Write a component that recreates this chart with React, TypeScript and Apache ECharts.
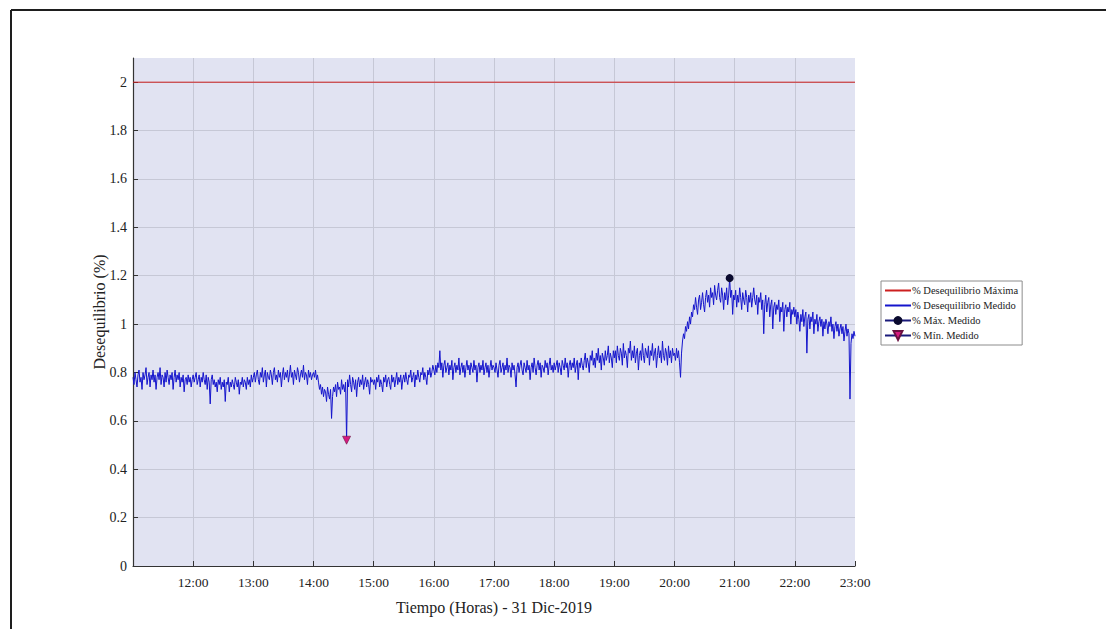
import React, { useEffect, useRef } from "react";
import * as echarts from "echarts";

// Sampled every minute, one array per hour (minutes :00 .. :59)
const h11 = [
  0.78, 0.75, 0.80, 0.77, 0.74, 0.79, 0.81, 0.76, 0.78, 0.73,
  0.80, 0.77, 0.79, 0.82, 0.75, 0.78, 0.80, 0.74, 0.79, 0.77,
  0.81, 0.76, 0.79, 0.73, 0.78, 0.80, 0.77, 0.82, 0.75, 0.79,
  0.78, 0.74, 0.80, 0.76, 0.81, 0.78, 0.75, 0.79, 0.77, 0.80,
  0.73, 0.78, 0.81, 0.76, 0.79, 0.77, 0.80, 0.74, 0.78, 0.76,
  0.79, 0.72, 0.77, 0.78, 0.75, 0.79, 0.76, 0.78, 0.74, 0.77,
];
const h12 = [
  0.79, 0.76, 0.78, 0.80, 0.75, 0.77, 0.79, 0.74, 0.78, 0.76,
  0.80, 0.77, 0.75, 0.79, 0.73, 0.78, 0.76, 0.67, 0.77, 0.79,
  0.75, 0.77, 0.74, 0.76, 0.72, 0.77, 0.75, 0.78, 0.73, 0.76,
  0.74, 0.77, 0.68, 0.76, 0.75, 0.78, 0.72, 0.76, 0.74, 0.77,
  0.75, 0.73, 0.78, 0.76, 0.74, 0.77, 0.71, 0.76, 0.75, 0.78,
  0.74, 0.77, 0.76, 0.73, 0.78, 0.75, 0.77, 0.74, 0.79, 0.76,
];
const h13 = [
  0.78, 0.80, 0.76, 0.79, 0.81, 0.77, 0.75, 0.80, 0.78, 0.82,
  0.76, 0.79, 0.81, 0.74, 0.80, 0.78, 0.77, 0.81, 0.79, 0.75,
  0.80, 0.82, 0.77, 0.79, 0.76, 0.81, 0.78, 0.80, 0.74, 0.79,
  0.82, 0.77, 0.80, 0.78, 0.81, 0.76, 0.79, 0.83, 0.78, 0.80,
  0.75, 0.81, 0.79, 0.77, 0.82, 0.80, 0.76, 0.79, 0.81, 0.78,
  0.83, 0.77, 0.80, 0.79, 0.75, 0.81, 0.78, 0.80, 0.77, 0.79,
];
const h14 = [
  0.80, 0.78, 0.81, 0.77, 0.79, 0.76, 0.73, 0.75, 0.71, 0.74,
  0.70, 0.73, 0.72, 0.68, 0.74, 0.71, 0.69, 0.73, 0.61, 0.70,
  0.74, 0.72, 0.75, 0.70, 0.76, 0.73, 0.74, 0.71, 0.77, 0.73,
  0.75, 0.72, 0.76, 0.52, 0.77, 0.74, 0.79, 0.75, 0.72, 0.78,
  0.76, 0.73, 0.77, 0.70, 0.76, 0.78, 0.74, 0.77, 0.75, 0.79,
  0.73, 0.76, 0.78, 0.74, 0.77, 0.75, 0.71, 0.78, 0.76, 0.77,
];
const h15 = [
  0.75, 0.77, 0.73, 0.78, 0.76, 0.79, 0.74, 0.77, 0.75, 0.72,
  0.78, 0.76, 0.79, 0.74, 0.77, 0.78, 0.75, 0.73, 0.79, 0.76,
  0.78, 0.74, 0.77, 0.80, 0.75, 0.78, 0.76, 0.79, 0.73, 0.77,
  0.79, 0.76, 0.80, 0.77, 0.75, 0.79, 0.78, 0.81, 0.76, 0.78,
  0.80, 0.74, 0.79, 0.77, 0.81, 0.78, 0.76, 0.80, 0.79, 0.82,
  0.77, 0.80, 0.78, 0.75, 0.81, 0.79, 0.82, 0.78, 0.80, 0.83,
];
const h16 = [
  0.81, 0.79, 0.83, 0.80, 0.84, 0.82, 0.89, 0.81, 0.84, 0.78,
  0.83, 0.85, 0.80, 0.82, 0.84, 0.79, 0.83, 0.81, 0.85, 0.77,
  0.82, 0.84, 0.80, 0.83, 0.81, 0.86, 0.79, 0.82, 0.84, 0.80,
  0.83, 0.78, 0.82, 0.85, 0.81, 0.83, 0.79, 0.84, 0.82, 0.80,
  0.85, 0.81, 0.83, 0.76, 0.82, 0.84, 0.80, 0.83, 0.81, 0.85,
  0.79, 0.82, 0.84, 0.80, 0.83, 0.78, 0.82, 0.85, 0.81, 0.83,
];
const h17 = [
  0.82, 0.80, 0.84, 0.81, 0.78, 0.83, 0.85, 0.80, 0.82, 0.84,
  0.79, 0.83, 0.81, 0.86, 0.80, 0.83, 0.82, 0.78, 0.84, 0.81,
  0.83, 0.79, 0.74, 0.82, 0.84, 0.80, 0.83, 0.85, 0.81, 0.79,
  0.84, 0.82, 0.80, 0.85, 0.81, 0.83, 0.77, 0.82, 0.84, 0.80,
  0.86, 0.82, 0.79, 0.83, 0.85, 0.81, 0.84, 0.78, 0.83, 0.82,
  0.80, 0.85, 0.82, 0.84, 0.79, 0.83, 0.86, 0.81, 0.83, 0.80,
];
const h18 = [
  0.84, 0.81, 0.83, 0.85, 0.80, 0.84, 0.82, 0.79, 0.85, 0.83,
  0.81, 0.86, 0.82, 0.84, 0.78, 0.83, 0.85, 0.81, 0.84, 0.82,
  0.86, 0.80, 0.83, 0.85, 0.77, 0.84, 0.82, 0.86, 0.83, 0.81,
  0.85, 0.88, 0.82, 0.86, 0.84, 0.80, 0.87, 0.85, 0.89, 0.83,
  0.86, 0.82, 0.88, 0.85, 0.90, 0.84, 0.87, 0.81, 0.88, 0.86,
  0.83, 0.89, 0.85, 0.87, 0.91, 0.84, 0.88, 0.86, 0.82, 0.89,
];
const h19 = [
  0.86, 0.89, 0.84, 0.91, 0.87, 0.85, 0.90, 0.88, 0.83, 0.92,
  0.86, 0.89, 0.87, 0.82, 0.90, 0.88, 0.93, 0.85, 0.89, 0.86,
  0.91, 0.84, 0.88, 0.90, 0.81, 0.87, 0.89, 0.85, 0.92, 0.87,
  0.84, 0.90, 0.88, 0.86, 0.91, 0.83, 0.89, 0.87, 0.92, 0.85,
  0.88, 0.90, 0.82, 0.87, 0.91, 0.86, 0.89, 0.84, 0.93, 0.87,
  0.85, 0.90, 0.88, 0.83, 0.91, 0.86, 0.89, 0.84, 0.90, 0.87,
];
const h20 = [
  0.88, 0.85, 0.90, 0.86, 0.89, 0.84, 0.78, 0.88, 0.93, 0.96,
  0.94, 0.99, 0.97, 1.01, 0.98, 1.03, 1.00, 1.05, 1.03, 1.08,
  1.06, 1.11, 1.07, 1.04, 1.10, 1.12, 1.06, 1.09, 1.13, 1.08,
  1.05, 1.11, 1.14, 1.09, 1.12, 1.07, 1.15, 1.11, 1.13, 1.08,
  1.16, 1.12, 1.10, 1.14, 1.17, 1.11, 1.09, 1.15, 1.12, 1.06,
  1.13, 1.10, 1.15, 1.08, 1.12, 1.19, 1.11, 1.14, 1.04, 1.12,
];
const h21 = [
  1.10, 1.14, 1.07, 1.12, 1.09, 1.15, 1.11, 1.06, 1.13, 1.10,
  1.08, 1.14, 1.11, 1.05, 1.12, 1.09, 1.13, 1.07, 1.11, 1.15,
  1.10, 1.08, 1.12, 1.04, 1.11, 1.09, 1.13, 1.06, 1.10, 0.96,
  1.08, 1.12, 1.05, 1.09, 1.11, 1.03, 1.08, 1.10, 0.98, 1.07,
  1.09, 1.04, 1.08, 1.06, 1.10, 1.01, 1.07, 1.05, 1.09, 0.97,
  1.06, 1.08, 1.03, 1.07, 1.05, 1.09, 1.00, 1.06, 1.04, 1.07,
];
const h22 = [
  1.03, 1.06, 1.00, 1.05, 1.02, 0.97, 1.04, 1.01, 1.06, 0.99,
  1.03, 1.05, 0.88, 1.02, 1.04, 0.98, 1.03, 1.01, 1.05, 0.96,
  1.02, 1.00, 1.04, 0.97, 1.01, 1.03, 0.99, 1.02, 0.95, 1.01,
  0.98, 1.02, 1.00, 0.96, 1.01, 0.99, 1.03, 0.97, 1.00, 0.94,
  0.99, 1.01, 0.97, 1.00, 0.95, 0.98, 1.00, 0.96, 0.99, 0.93,
  0.97, 1.00, 0.95, 0.98, 0.96, 0.69, 0.92, 0.96, 0.94, 0.97,
];
const h23 = [0.95];

const hourBlocks = [h11, h12, h13, h14, h15, h16, h17, h18, h19, h20, h21, h22, h23];
const startHour = 11;
const endHour = 23;
const stepMinutes = 1;
const limitValue = 2;

const yTicks = [0, 0.2, 0.4, 0.6, 0.8, 1, 1.2, 1.4, 1.6, 1.8, 2];

const SERIF = "'Liberation Serif', 'Times New Roman', serif";

export default function App() {
  const ref = useRef<HTMLDivElement>(null);

  useEffect(() => {
    document.body.style.margin = "0";
    if (!ref.current) return;
    const chart = echarts.init(ref.current, undefined, { renderer: "svg" });

    const measured: [number, number][] = [];
    hourBlocks.forEach((block, h) => {
      block.forEach((v, i) => {
        measured.push([(startHour + h) * 60 + i * stepMinutes, v]);
      });
    });
    let maxPt = measured[0];
    let minPt = measured[0];
    measured.forEach((p) => {
      if (p[1] > maxPt[1]) maxPt = p;
      if (p[1] < minPt[1]) minPt = p;
    });

    const xMin = startHour * 60;
    const xMax = endHour * 60;

    chart.setOption({
      animation: false,
      backgroundColor: "#ffffff",
      textStyle: { fontFamily: SERIF },
      graphic: [
        { type: "line", shape: { x1: 11, y1: 10, x2: 1106, y2: 10 }, style: { stroke: "#1e1e1e", lineWidth: 2 } },
        { type: "line", shape: { x1: 11, y1: 10, x2: 11, y2: 629 }, style: { stroke: "#1e1e1e", lineWidth: 2 } },
      ],
      grid: {
        left: 133,
        right: 251,
        top: 58,
        bottom: 63,
        show: true,
        backgroundColor: "#e1e3f2",
        borderWidth: 0,
      },
      legend: {
        orient: "vertical",
        left: 881,
        top: 281,
        padding: [4, 4, 4, 3],
        itemGap: 4,
        itemWidth: 26,
        itemHeight: 11,
        backgroundColor: "#ffffff",
        borderColor: "#8c8c8c",
        borderWidth: 1,
        borderRadius: 0,
        textStyle: { fontFamily: SERIF, fontSize: 10.5, color: "#222", padding: [0, 0, 0, -4] },
        data: [
          { name: "% Desequilibrio Máxima", itemStyle: { opacity: 0 } },
          { name: "% Desequilibrio Medido", itemStyle: { opacity: 0 } },
          { name: "% Máx. Medido" },
          { name: "% Mín. Medido" },
        ],
      },
      xAxis: {
        type: "value",
        min: xMin,
        max: xMax,
        interval: 60,
        name: "Tiempo (Horas) - 31 Dic-2019",
        nameLocation: "middle",
        nameGap: 33,
        nameTextStyle: { fontFamily: SERIF, fontSize: 16, color: "#222" },
        axisLine: { lineStyle: { color: "#333", width: 1.2 } },
        axisTick: { inside: true, length: 5, lineStyle: { color: "#333" } },
        axisLabel: {
          showMinLabel: false,
          margin: 9,
          fontFamily: SERIF,
          fontSize: 13.5,
          color: "#222",
          formatter: (v: number) => `${Math.floor(v / 60)}:00`,
        },
        splitLine: { show: true, showMaxLine: false, lineStyle: { color: "#c6c8d6", width: 1 } },
      },
      yAxis: {
        type: "value",
        min: 0,
        max: 2.1,
        interval: 0.2,
        name: "Desequilibrio (%)",
        nameLocation: "middle",
        nameGap: 26,
        nameMoveOverlap: false,
        nameTextStyle: { fontFamily: SERIF, fontSize: 16, color: "#222" },
        axisLine: { show: true, lineStyle: { color: "#333", width: 1.2 } },
        axisTick: { show: true, inside: true, length: 5, lineStyle: { color: "#333" } },
        axisLabel: {
          showMaxLabel: false,
          margin: 6,
          fontFamily: SERIF,
          fontSize: 14,
          color: "#222",
          formatter: (v: number) => {
            const t = yTicks.find((k) => Math.abs(k - v) < 1e-6);
            return t === undefined ? "" : String(t);
          },
        },
        splitLine: {
          show: true,
          showMaxLine: false,
          lineStyle: { color: "#c6c8d6", width: 1 },
        },
      },
      series: [
        {
          name: "% Desequilibrio Máxima",
          type: "line",
          data: [[xMin, limitValue], [xMax, limitValue]],
          symbol: "none",
          lineStyle: { color: "#cc1f1f", width: 1 },
          itemStyle: { color: "#cc1f1f" },
          z: 3,
        },
        {
          name: "% Desequilibrio Medido",
          type: "line",
          data: measured,
          symbol: "none",
          lineStyle: { color: "#1414cc", width: 1 },
          itemStyle: { color: "#1414cc" },
          z: 4,
        },
        {
          name: "% Máx. Medido",
          type: "line",
          data: [maxPt],
          symbol: "circle",
          symbolSize: 8,
          showSymbol: true,
          lineStyle: { color: "#1a1a7a", width: 1.5 },
          itemStyle: { color: "#0a0a2e" },
          z: 5,
        },
        {
          name: "% Mín. Medido",
          type: "line",
          data: [minPt],
          symbol: "triangle",
          symbolRotate: 180,
          symbolSize: 8,
          showSymbol: true,
          lineStyle: { color: "#1a1a7a", width: 1.5 },
          itemStyle: { color: "#d61a80", borderColor: "#6a1040", borderWidth: 0.6 },
          z: 5,
        },
      ],
    });

    return () => chart.dispose();
  }, []);

  return <div ref={ref} style={{ width: 1106, height: 629 }} />;
}
